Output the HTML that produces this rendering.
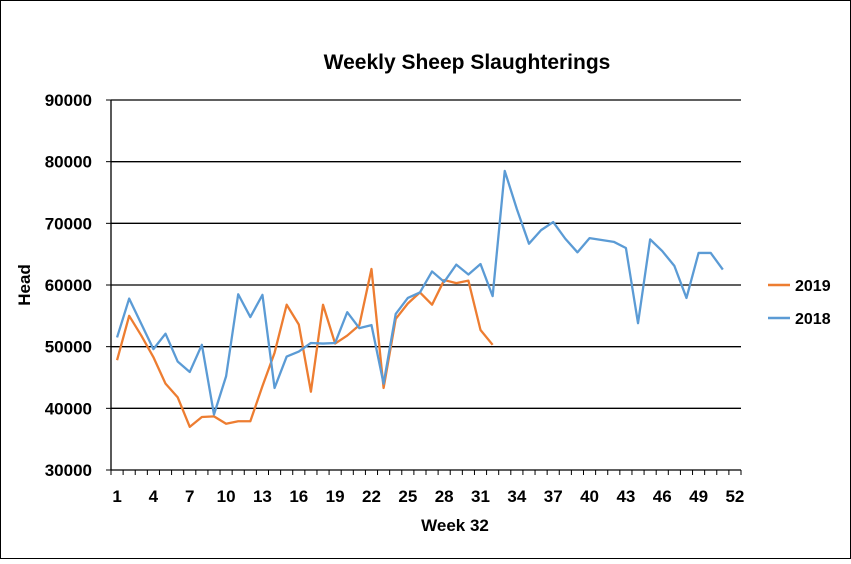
<!DOCTYPE html>
<html><head><meta charset="utf-8"><style>
body{margin:0;background:#fff}
svg text{font-family:"Liberation Sans",Arial,sans-serif;font-weight:bold;fill:#000}
</style></head><body>
<svg id="chart" width="851" height="559" xmlns="http://www.w3.org/2000/svg">
<rect x="0.5" y="0.5" width="850" height="558" fill="#fff" stroke="#000"/>
<text x="467" y="69" text-anchor="middle" font-size="21">Weekly Sheep Slaughterings</text>
<g id="grid"></g><g id="axes"></g><g id="series"></g>
<text x="455" y="531" text-anchor="middle" font-size="17">Week 32</text>
<text transform="translate(30,285) rotate(-90)" text-anchor="middle" font-size="17">Head</text>
<g>
<line x1="768" y1="285" x2="790" y2="285" stroke="#ED7D31" stroke-width="2.5"/>
<text x="795" y="291" font-size="16">2019</text>
<line x1="768" y1="318" x2="790" y2="318" stroke="#5B9BD5" stroke-width="2.5"/>
<text x="795" y="324" font-size="16">2018</text>
</g>
</svg>
<script>
const yTicks=[30000,40000,50000,60000,70000,80000,90000];
const xTickLabels=[1,4,7,10,13,16,19,22,25,28,31,34,37,40,43,46,49,52];
const s2019=[47800,55000,51800,48300,44000,41800,37000,38600,38700,37500,37900,37900,43600,49000,56800,53600,42700,56800,50500,51800,53500,62600,43300,54500,57000,58800,56800,60800,60300,60700,52700,50300];
const s2018=[51500,57800,53700,49600,52100,47600,45900,50300,39000,45200,58500,54800,58400,43300,48400,49200,50600,50500,50600,55600,53000,53500,44000,55300,57900,58800,62200,60500,63300,61700,63400,58200,78500,72300,66700,68900,70200,67500,65300,67600,67300,67000,66000,53800,67400,65500,63100,57900,65200,65200,62500];
const NS="http://www.w3.org/2000/svg";
const L=111,R=741,T=100,B=470,N=52,ymin=30000,ymax=90000;
const bw=(R-L)/N;
function xs(w){return L+(w-0.5)*bw;}
function ys(v){return B-(v-ymin)/(ymax-ymin)*(B-T);}
function mk(tag,attrs,parent){const e=document.createElementNS(NS,tag);for(const k in attrs)e.setAttribute(k,attrs[k]);parent.appendChild(e);return e;}
const grid=document.getElementById('grid'),axes=document.getElementById('axes'),ser=document.getElementById('series');
yTicks.forEach(v=>{
  if(v>ymin){const l=mk('line',{x1:L,x2:R,y1:ys(v),y2:ys(v),stroke:'#000','stroke-width':1.3},grid);
  
  }
  const t=mk('line',{x1:L-5,x2:L,y1:ys(v),y2:ys(v),stroke:'#000'},axes);
  
  
  const tx=mk('text',{x:L-19,y:ys(v)+6,'text-anchor':'end','font-size':17},axes);tx.textContent=v;
  
  
});
const ya=mk('line',{x1:L,x2:L,y1:T,y2:B,stroke:'#000','stroke-width':1.3},axes);


const xa=mk('line',{x1:L,x2:R,y1:B,y2:B,stroke:'#000','stroke-width':1.3},axes);


for(let i=0;i<=N;i++){const t=mk('line',{x1:L+i*bw,x2:L+i*bw,y1:B,y2:B+5,stroke:'#000'},axes);
  
  }
xTickLabels.forEach(w=>{const tx=mk('text',{x:xs(w),y:B+32,'text-anchor':'middle','font-size':17},axes);tx.textContent=w;
  
  });
function line(data,color,name){
  const p=mk('polyline',{points:data.map((v,i)=>xs(i+1)+','+ys(v)).join(' '),fill:'none',stroke:color,'stroke-width':2.3,'stroke-linejoin':'round'},ser);
  
  
}
line(s2019,'#ED7D31','series-2019-line');
line(s2018,'#5B9BD5','series-2018-line');
</script>
</body></html>
